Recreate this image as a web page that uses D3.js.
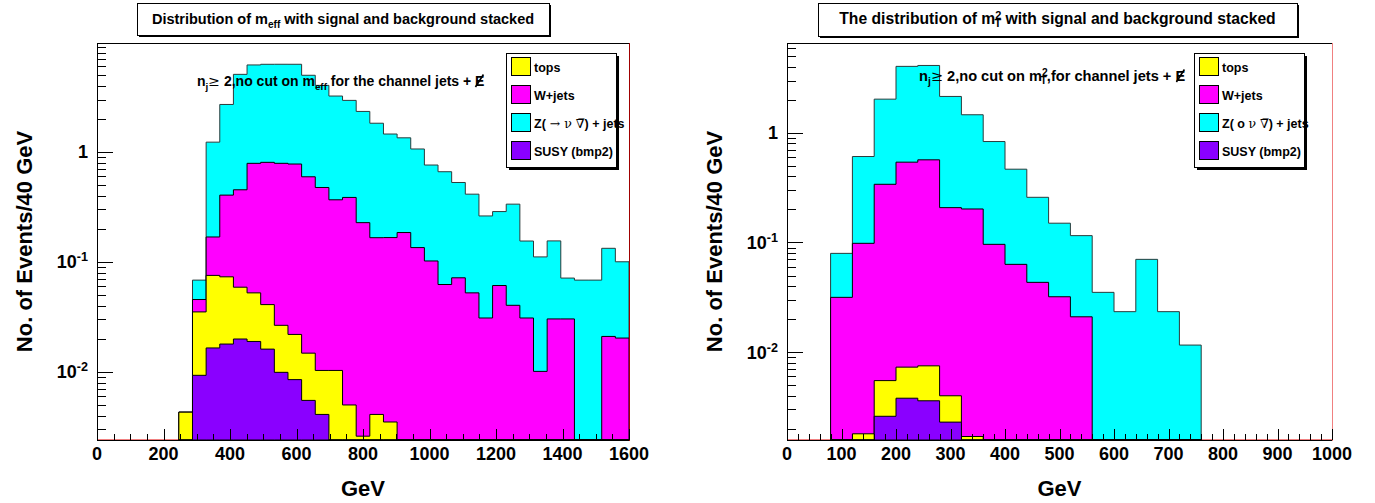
<!DOCTYPE html>
<html>
<head>
<meta charset="utf-8">
<script src="https://cdn.jsdelivr.net/npm/d3@7/dist/d3.min.js"></script>
<style>
  body { margin: 0; background: #fff; }
  text { font-family: 'Liberation Sans', Arial, Helvetica, sans-serif; font-weight: bold; }
</style>
</head>
<body>
<div id="visualization"></div>
<script>
// Stack order, bottom to top, and legend order (as in the original plots)
const seriesKeys = ['susy', 'tops', 'wjets', 'zjets']
const legendKeys = ['tops', 'wjets', 'zjets', 'susy']
const seriesColors = { tops: '#ffff00', wjets: '#ff00ff', zjets: '#00ffff', susy: '#8a00ff' }

// m_eff histogram: 39 bins over 0-1600 GeV, filled from bin 6 on
const meffBinWidth = 1600 / 39
const meffBinLow = 6 * meffBinWidth
const meffSusy = [0, 0.0093, 0.0165, 0.0179, 0.0199, 0.0189, 0.0161, 0.0099, 0.0085, 0.0055, 0.0041,
  0, 0, 0, 0, 0, 0, 0, 0, 0, 0, 0, 0, 0, 0, 0, 0, 0, 0, 0, 0, 0, 0]
const meffTops = [0.0043, 0.0258, 0.0589, 0.0553, 0.039, 0.0334, 0.0248, 0.0166, 0.0134, 0.0093, 0.0062,
  0.0103, 0.005, 0.0026, 0.0041, 0.0035, 0, 0, 0, 0, 0, 0, 0, 0, 0, 0, 0, 0, 0, 0, 0, 0, 0]
const meffWjets = [0, 0.0104, 0.0932, 0.332, 0.394, 0.736, 0.764, 0.762, 0.755, 0.58, 0.465,
  0.357, 0.381, 0.225, 0.162, 0.163, 0.185, 0.135, 0.102, 0.0623, 0.0717, 0.0523, 0.0309, 0.061,
  0.0403, 0.0309, 0.0101, 0.0303, 0.0303, 0, 0, 0.021, 0.0203]
const meffZjets = [0, 0.0228, 1.06, 2.3, 4.63, 5.4, 5.47, 5.49, 5.5, 4.39, 3.56,
  2.86, 2.56, 2.11, 1.66, 1.29, 1.16, 0.93, 0.659, 0.599, 0.456, 0.361, 0.231, 0.226,
  0.295, 0.124, 0.101, 0.125, 0.041, 0.0683, 0.0683, 0.112, 0.08]

// m_T^2 histogram: 40 GeV bins from 80 to 760 GeV
const mt2BinLow = 80
const mt2BinWidth = 40
const mt2Susy = [0, 0, 0.0026, 0.0038, 0.0036, 0.0023, 0, 0, 0, 0, 0, 0, 0, 0, 0, 0, 0]
const mt2Tops = [0, 0.0018, 0.0029, 0.0035, 0.0039, 0.0017, 0.0017, 0, 0, 0, 0, 0, 0, 0, 0, 0, 0]
const mt2Wjets = [0.0316, 0.0965, 0.334, 0.533, 0.56, 0.204, 0.2005, 0.0962, 0.0632, 0.0433, 0.032, 0.021,
  0, 0, 0, 0, 0]
const mt2Zjets = [0.048, 0.51, 1.69, 3.5, 3.55, 1.94, 1.26, 0.737, 0.403, 0.215, 0.118, 0.0945,
  0.0351, 0.0234, 0.0702, 0.0234, 0.0116]

// axis tick labels
const meffXTicks = [0, 200, 400, 600, 800, 1000, 1200, 1400, 1600]
const mt2XTicks = [0, 100, 200, 300, 400, 500, 600, 700, 800, 900, 1000]
const yTickExponents = [-2, -1, 0]

const width = 1375
const height = 503

const svg = d3
  .select('#visualization')
  .append('svg')
  .attr('width', width)
  .attr('height', height)

// Appends tspans to a text element; each part may be shifted up/down, scaled
// or drawn in the thin symbol font (ROOT mixes Helvetica and Symbol)
function richText(sel, parts, size) {
  let shift = 0
  parts.forEach(p => {
    const s = p.shift || 0
    const ts = sel
      .append('tspan')
      .attr('dy', s - shift)
      .attr('font-size', size * (p.scale || 1))
      .text(p.t)
    if (p.dx) ts.attr('dx', p.dx)
    if (p.sym) ts.attr('font-family', "'DejaVu Serif', serif").attr('font-weight', 'normal')
    shift = s
  })
  return sel
}

// white box with a black drop shadow, like a TPaveText
function shadowBox(g, x0, y0, x1, y1, off) {
  g.append('rect')
    .attr('x', x0 + off)
    .attr('y', y0 + off)
    .attr('width', x1 - x0)
    .attr('height', y1 - y0)
    .attr('fill', '#000')
  g.append('rect')
    .attr('x', x0 + 0.5)
    .attr('y', y0 + 0.5)
    .attr('width', x1 - x0)
    .attr('height', y1 - y0)
    .attr('fill', '#fff')
    .attr('stroke', '#000')
}

function drawPanel(cfg) {
  const g = svg.append('g')

  const x = d3.scaleLinear().domain(cfg.xDomain).range([cfg.left, cfg.right])
  const y = d3.scaleLog().domain(cfg.yDomain).range([cfg.bottom, cfg.top]).clamp(true)
  const yMin = cfg.yDomain[0]

  // one row per bin, stacked bottom to top
  const rows = cfg.series.susy.map((_, i) => {
    const row = { lo: cfg.binLow + i * cfg.binWidth }
    seriesKeys.forEach(k => (row[k] = cfg.series[k][i]))
    return row
  })
  const stacked = d3.stack().keys(seriesKeys)(rows)

  // faint red line of the empty reference histogram along the bottom
  g.append('line')
    .attr('x1', cfg.left)
    .attr('x2', cfg.right)
    .attr('y1', cfg.bottom - 0.5)
    .attr('y2', cfg.bottom - 0.5)
    .attr('stroke', '#f08080')

  // ROOT draws every stacked total from the bottom of the frame,
  // tallest first, so the smaller ones cover it
  const area = d3
    .area()
    .x(d => x(d.x))
    .y0(cfg.bottom)
    .y1(d => y(Math.max(d.v, yMin)))

  stacked
    .slice()
    .reverse()
    .forEach(layer => {
      const pts = []
      layer.forEach((d, i) => {
        pts.push({ x: rows[i].lo, v: d[1] }, { x: rows[i].lo + cfg.binWidth, v: d[1] })
      })
      g.append('path')
        .attr('d', area(pts))
        .attr('fill', seriesColors[layer.key])
        .attr('stroke', layer.key === 'zjets' ? '#2b3b3b' : '#000')
        .attr('stroke-width', 1)
    })

  // annotation, with a drawn slash through the final E (missing E_T)
  const note = richText(
    g.append('text').attr('x', cfg.note.x).attr('y', cfg.note.y).attr('fill', '#000'),
    cfg.note.parts,
    cfg.note.size
  )
  const nb = note.node().getBBox()
  const xe = nb.x + nb.width
  g.append('line')
    .attr('x1', xe - 9)
    .attr('y1', cfg.note.y + 1)
    .attr('x2', xe - 1)
    .attr('y2', cfg.note.y - 11.5)
    .attr('stroke', '#000')
    .attr('stroke-width', 1.6)

  // frame
  g.append('rect')
    .attr('x', cfg.left + 0.5)
    .attr('y', cfg.top + 0.5)
    .attr('width', cfg.right - cfg.left)
    .attr('height', cfg.bottom - cfg.top)
    .attr('fill', 'none')
    .attr('stroke', '#000')
  g.append('line')
    .attr('x1', cfg.right + 0.5)
    .attr('x2', cfg.right + 0.5)
    .attr('y1', cfg.top)
    .attr('y2', cfg.bottom + 1)
    .attr('stroke', cfg.rightEdge)

  // x ticks, drawn upward from the bottom
  const xTicks = d3.range(cfg.xDomain[0], cfg.xDomain[1] + 0.001, cfg.minorStep)
  g.selectAll('.xtick')
    .data(xTicks)
    .join('line')
    .attr('x1', d => Math.round(x(d)) + 0.5)
    .attr('x2', d => Math.round(x(d)) + 0.5)
    .attr('y1', cfg.bottom)
    .attr('y2', d => cfg.bottom - (d % cfg.majorStep === 0 ? 11 : 6))
    .attr('stroke', '#000')

  g.selectAll('.xlabel')
    .data(cfg.xTicks)
    .join('text')
    .attr('x', d => x(d))
    .attr('y', cfg.bottom + 20)
    .attr('text-anchor', 'middle')
    .attr('font-size', 18)
    .text(d => d)

  // y ticks: decades long, 2..9 short
  const yTicks = []
  for (let e = -4; e <= 1; e++) {
    for (let m = 1; m <= 9; m++) {
      const v = m * Math.pow(10, e)
      if (v >= cfg.yDomain[0] && v <= cfg.yDomain[1]) yTicks.push({ v, major: m === 1 })
    }
  }
  g.selectAll('.ytick')
    .data(yTicks)
    .join('line')
    .attr('x1', cfg.left)
    .attr('x2', d => cfg.left + (d.major ? 16 : 9))
    .attr('y1', d => Math.round(y(d.v)) + 0.5)
    .attr('y2', d => Math.round(y(d.v)) + 0.5)
    .attr('stroke', '#000')

  yTickExponents.forEach(e => {
    const t = g
      .append('text')
      .attr('x', cfg.left - 9)
      .attr('y', y(Math.pow(10, e)) + 6.5)
      .attr('text-anchor', 'end')
    const parts = e === 0 ? [{ t: '1' }] : [{ t: '10' }, { t: String(e), shift: -7, scale: 0.7 }]
    richText(t, parts, 18)
  })

  // axis titles
  g.append('text')
    .attr('x', (cfg.left + cfg.right) / 2)
    .attr('y', 496)
    .attr('text-anchor', 'middle')
    .attr('font-size', 22)
    .text('GeV')

  g.append('text')
    .attr('transform', `translate(${cfg.left - 65},${(cfg.top + cfg.bottom) / 2}) rotate(-90)`)
    .attr('text-anchor', 'middle')
    .attr('font-size', 22)
    .text('No. of Events/40 GeV')

  // title box
  const tb = cfg.titleBox
  shadowBox(g, tb[0], tb[1], tb[2], tb[3], 2)
  richText(
    g.append('text')
      .attr('x', (tb[0] + tb[2]) / 2)
      .attr('y', tb[1] + 21)
      .attr('text-anchor', 'middle'),
    cfg.title,
    cfg.titleSize
  )

  // legend
  const lb = cfg.legendBox
  shadowBox(g, lb[0], lb[1], lb[2], lb[3], 3)
  legendKeys.forEach((k, i) => {
    const cy = lb[1] + 14 + i * 28
    g.append('rect')
      .attr('x', lb[0] + 5.5)
      .attr('y', cy - 9.5)
      .attr('width', 19)
      .attr('height', 18)
      .attr('fill', seriesColors[k])
      .attr('stroke', '#000')
    richText(
      g.append('text').attr('x', lb[0] + 28).attr('y', cy + 4.5),
      cfg.legendLabels[k],
      12.5
    )
  })
}

const meffSeries = { susy: meffSusy, tops: meffTops, wjets: meffWjets, zjets: meffZjets }
const mt2Series = { susy: mt2Susy, tops: mt2Tops, wjets: mt2Wjets, zjets: mt2Zjets }

drawPanel({
  left: 97,
  right: 629,
  top: 43,
  bottom: 440,
  xDomain: [0, 1600],
  yDomain: [0.0024, 9.8],
  minorStep: 50,
  majorStep: 200,
  xTicks: meffXTicks,
  binLow: meffBinLow,
  binWidth: meffBinWidth,
  series: meffSeries,
  rightEdge: '#a00000',
  titleBox: [137, 3, 549, 35],
  titleSize: 14.5,
  title: [
    { t: 'Distribution of m' },
    { t: 'eff', shift: 4, scale: 0.7 },
    { t: ' with signal and background stacked' }
  ],
  legendBox: [506, 53, 616, 167],
  legendLabels: {
    tops: [{ t: 'tops' }],
    wjets: [{ t: 'W+jets' }],
    zjets: [{ t: 'Z(' }, { t: ' \u2192 \u03bd \u2207\u0305', sym: true }, { t: ') + jets' }],
    susy: [{ t: 'SUSY (bmp2)' }]
  },
  note: {
    x: 197,
    y: 86,
    size: 14,
    parts: [
      { t: 'n' },
      { t: 'j', shift: 4, scale: 0.7 },
      { t: '\u2265', sym: true },
      { t: ' 2,no cut on m' },
      { t: 'eff', shift: 4, scale: 0.7 },
      { t: ' for the channel jets + E', shift: 0 }
    ]
  }
})

drawPanel({
  left: 787,
  right: 1332,
  top: 43,
  bottom: 440,
  xDomain: [0, 1000],
  yDomain: [0.00158, 6.6],
  minorStep: 20,
  majorStep: 100,
  xTicks: mt2XTicks,
  binLow: mt2BinLow,
  binWidth: mt2BinWidth,
  series: mt2Series,
  rightEdge: '#f08080',
  titleBox: [818, 3, 1297, 36],
  titleSize: 15.7,
  title: [
    { t: 'The distribution of m' },
    { t: '2', shift: -5, scale: 0.7 },
    { t: 'T', shift: 3, scale: 0.7, dx: -7 },
    { t: ' with signal and background stacked' }
  ],
  legendBox: [1194, 53, 1304, 167],
  legendLabels: {
    tops: [{ t: 'tops' }],
    wjets: [{ t: 'W+jets' }],
    zjets: [{ t: 'Z( o  ' }, { t: '\u03bd \u2207\u0305', sym: true }, { t: ') + jets' }],
    susy: [{ t: 'SUSY (bmp2)' }]
  },
  note: {
    x: 919,
    y: 81,
    size: 14.6,
    parts: [
      { t: 'n' },
      { t: 'j', shift: 4, scale: 0.7 },
      { t: '\u2265', sym: true },
      { t: ' 2,no cut on m' },
      { t: '2', shift: -5, scale: 0.7 },
      { t: 'T', shift: 3, scale: 0.7, dx: -7 },
      { t: ',for channel jets + E', shift: 0 }
    ]
  }
})
</script>
</body>
</html>
